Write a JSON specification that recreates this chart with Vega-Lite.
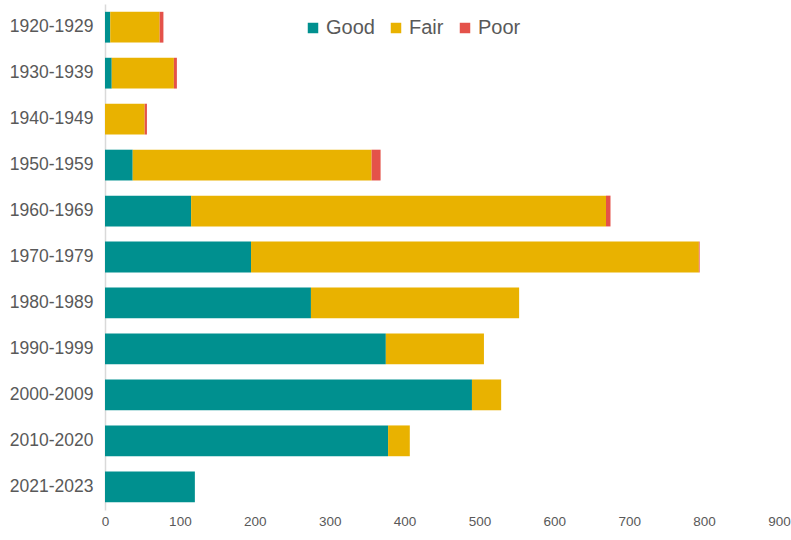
{
  "$schema": "https://vega.github.io/schema/vega-lite/v6.json",
  "width": 674,
  "height": 506,
  "autosize": "none",
  "padding": {"left": 105, "top": 4, "right": 12, "bottom": 30},
  "background": "white",
  "config": {"view": {"stroke": null}, "font": "Liberation Sans"},
  "data": {"values": [
    {"decade": "1920-1929", "condition": "Good", "ord": 1, "count": 7},
    {"decade": "1920-1929", "condition": "Fair", "ord": 2, "count": 66},
    {"decade": "1920-1929", "condition": "Poor", "ord": 3, "count": 5},
    {"decade": "1930-1939", "condition": "Good", "ord": 1, "count": 9},
    {"decade": "1930-1939", "condition": "Fair", "ord": 2, "count": 83},
    {"decade": "1930-1939", "condition": "Poor", "ord": 3, "count": 4},
    {"decade": "1940-1949", "condition": "Good", "ord": 1, "count": 0},
    {"decade": "1940-1949", "condition": "Fair", "ord": 2, "count": 53},
    {"decade": "1940-1949", "condition": "Poor", "ord": 3, "count": 3},
    {"decade": "1950-1959", "condition": "Good", "ord": 1, "count": 37},
    {"decade": "1950-1959", "condition": "Fair", "ord": 2, "count": 319},
    {"decade": "1950-1959", "condition": "Poor", "ord": 3, "count": 12},
    {"decade": "1960-1969", "condition": "Good", "ord": 1, "count": 115},
    {"decade": "1960-1969", "condition": "Fair", "ord": 2, "count": 554},
    {"decade": "1960-1969", "condition": "Poor", "ord": 3, "count": 6},
    {"decade": "1970-1979", "condition": "Good", "ord": 1, "count": 195},
    {"decade": "1970-1979", "condition": "Fair", "ord": 2, "count": 598},
    {"decade": "1970-1979", "condition": "Poor", "ord": 3, "count": 1},
    {"decade": "1980-1989", "condition": "Good", "ord": 1, "count": 275},
    {"decade": "1980-1989", "condition": "Fair", "ord": 2, "count": 278},
    {"decade": "1980-1989", "condition": "Poor", "ord": 3, "count": 0},
    {"decade": "1990-1999", "condition": "Good", "ord": 1, "count": 375},
    {"decade": "1990-1999", "condition": "Fair", "ord": 2, "count": 131},
    {"decade": "1990-1999", "condition": "Poor", "ord": 3, "count": 0},
    {"decade": "2000-2009", "condition": "Good", "ord": 1, "count": 490},
    {"decade": "2000-2009", "condition": "Fair", "ord": 2, "count": 39},
    {"decade": "2000-2009", "condition": "Poor", "ord": 3, "count": 0},
    {"decade": "2010-2020", "condition": "Good", "ord": 1, "count": 378},
    {"decade": "2010-2020", "condition": "Fair", "ord": 2, "count": 29},
    {"decade": "2010-2020", "condition": "Poor", "ord": 3, "count": 0},
    {"decade": "2021-2023", "condition": "Good", "ord": 1, "count": 120},
    {"decade": "2021-2023", "condition": "Fair", "ord": 2, "count": 0},
    {"decade": "2021-2023", "condition": "Poor", "ord": 3, "count": 0}
  ]},
  "mark": {"type": "bar"},
  "encoding": {
    "y": {
      "field": "decade", "type": "nominal", "sort": null,
      "scale": {"paddingInner": 0.33, "paddingOuter": 0.17},
      "axis": {
        "title": null, "ticks": false, "domainColor": "#d9d9d9", "domainWidth": 1.5,
        "labelFontSize": 17.5, "labelColor": "#595959", "labelPadding": 12
      }
    },
    "x": {
      "field": "count", "type": "quantitative", "stack": "zero",
      "scale": {"domain": [0, 900], "nice": false},
      "axis": {
        "title": null, "grid": false, "domain": false, "ticks": false,
        "values": [0, 100, 200, 300, 400, 500, 600, 700, 800, 900],
        "labelFontSize": 13.5, "labelColor": "#595959", "labelPadding": 4,
        "labelFlush": false, "labelOverlap": false
      }
    },
    "color": {
      "field": "condition", "type": "nominal",
      "scale": {"domain": ["Good", "Fair", "Poor"], "range": ["#00908F", "#E9B200", "#E4524A"]},
      "legend": {
        "title": null, "orient": "none", "direction": "horizontal",
        "legendX": 198, "legendY": 14,
        "symbolType": "square", "symbolSize": 110, "symbolStrokeWidth": 0,
        "labelFontSize": 20, "labelColor": "#595959", "labelOffset": 3,
        "columnPadding": 11
      }
    },
    "order": {"field": "ord", "type": "quantitative"}
  }
}
